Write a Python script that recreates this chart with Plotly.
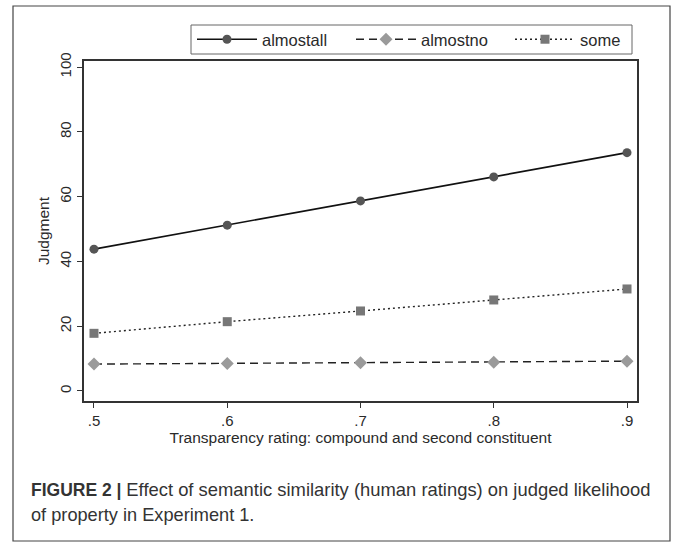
import plotly.graph_objects as go

# Transparency rating levels (x) and mean judgments per quantifier
ratings = [0.5, 0.6, 0.7, 0.8, 0.9]
rating_labels = [".5", ".6", ".7", ".8", ".9"]
almostall = [43.8, 51.2, 58.7, 66.1, 73.6]
almostno = [8.3, 8.5, 8.7, 8.9, 9.2]
some = [17.8, 21.4, 24.7, 28.1, 31.5]
y_ticks = [0, 20, 40, 60, 80, 100]

W, H = 675, 542
L, R, T, B = 84, 637, 61, 401  # plot area in pixels


def px(x):
    return (x - L) / (R - L)


def py(y):
    return (B - y) / (B - T)


fig = go.Figure()
fig.add_trace(go.Scatter(
    x=ratings, y=almostall, name="almostall", mode="lines+markers", legend="legend",
    line=dict(color="#111111", width=1.6),
    marker=dict(symbol="circle", size=9, color="#555555"),
))
fig.add_trace(go.Scatter(
    x=ratings, y=almostno, name="almostno", mode="lines+markers", legend="legend2",
    line=dict(color="#222222", width=1.4, dash="8px,5px"),
    marker=dict(symbol="diamond", size=10, color="#9a9a9a"),
))
fig.add_trace(go.Scatter(
    x=ratings, y=some, name="some", mode="lines+markers", legend="legend3",
    line=dict(color="#222222", width=1.4, dash="2px,3px"),
    marker=dict(symbol="square", size=9, color="#777777"),
))

FONT = "Liberation Sans, Arial, sans-serif"
axis_font = dict(family=FONT, size=15, color="#2a2a2a")


def legend_at(x_px):
    return dict(
        orientation="h", x=px(x_px), y=py(22), xanchor="left", yanchor="top",
        borderwidth=0, bgcolor="rgba(0,0,0,0)", itemwidth=60,
        font=dict(family=FONT, size=16.5, color="#2a2a2a"),
    )


fig.update_layout(
    width=W, height=H,
    margin=dict(l=L, r=W - R, t=T, b=H - B),
    paper_bgcolor="white", plot_bgcolor="white",
    font=axis_font,
    showlegend=True,
    legend=legend_at(192),
    legend2=legend_at(351),
    legend3=legend_at(510),
    xaxis=dict(
        range=[0.4925, 0.9075], tickvals=ratings, ticktext=rating_labels,
        showline=True, linecolor="#333333", linewidth=1.5, mirror=True,
        ticks="outside", ticklen=5, tickcolor="#333333", showgrid=False, zeroline=False,
        tickfont=dict(size=15),
        title=dict(text="Transparency rating: compound and second constituent",
                   font=dict(size=15.5), standoff=2),
    ),
    yaxis=dict(
        range=[-3.1, 101.9], tickvals=y_ticks, tickangle=-90,
        showline=True, linecolor="#333333", linewidth=1.5, mirror=True,
        ticks="outside", ticklen=5, tickcolor="#333333", showgrid=False, zeroline=False,
        tickfont=dict(size=15),
        title=dict(text="Judgment", font=dict(size=15.5), standoff=4),
    ),
)

# Figure frame around chart and caption
fig.add_shape(type="rect", xref="paper", yref="paper",
              x0=px(13), x1=px(670), y0=py(541), y1=py(6),
              line=dict(color="#444444", width=1.2), layer="below")
# Box enclosing the three legend entries
fig.add_shape(type="rect", xref="paper", yref="paper",
              x0=px(191), x1=px(632), y0=py(54), y1=py(25),
              line=dict(color="#666666", width=1), fillcolor="white", layer="below")

# Caption
fig.add_annotation(
    xref="paper", yref="paper", x=px(29), y=py(489), xanchor="left", yanchor="middle",
    showarrow=False, align="left",
    text=("<b>FIGURE 2 |</b> <span style='font-size:18.4px'>Effect of semantic similarity "
          "(human ratings) on judged likelihood</span>"),
    font=dict(family=FONT, size=17.5, color="#333333"),
)
fig.add_annotation(
    xref="paper", yref="paper", x=px(29), y=py(515), xanchor="left", yanchor="middle",
    showarrow=False, align="left",
    text="of property in Experiment 1.",
    font=dict(family=FONT, size=18.2, color="#333333"),
)

fig.write_html("out.html")
